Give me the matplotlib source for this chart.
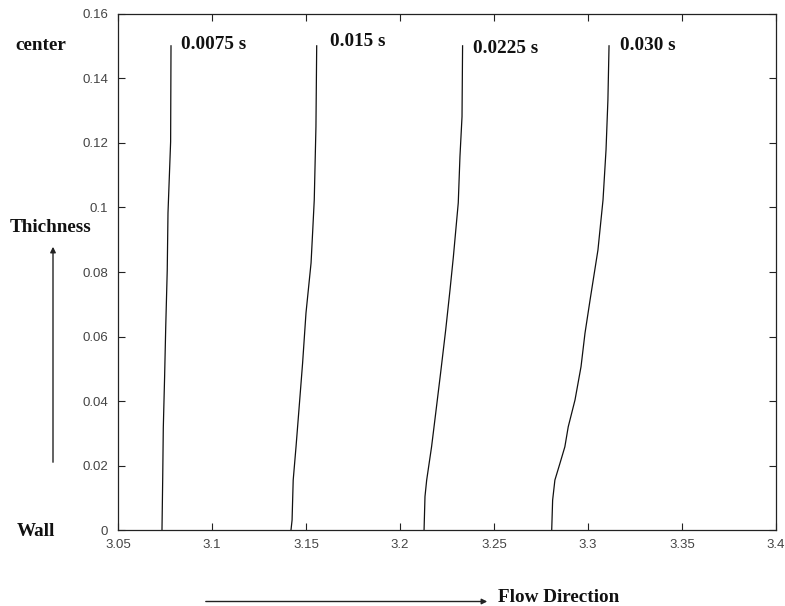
import matplotlib
matplotlib.use("Agg")
import matplotlib.pyplot as plt

# Front position along the flow direction at several depths (wall -> center)
times = ["0.0075 s", "0.015 s", "0.0225 s", "0.030 s"]

y_t1 = [0.0, 0.0167, 0.0317, 0.0476, 0.0631, 0.0806, 0.0983, 0.1203, 0.15]
x_t1 = [3.0734, 3.0738, 3.0741, 3.0748, 3.0754, 3.0762, 3.0766, 3.0780, 3.0782]

y_t2 = [0.0, 0.0032, 0.0156, 0.0259, 0.0414, 0.0518, 0.0673, 0.0828, 0.093, 0.1023, 0.125, 0.15]
x_t2 = [3.1420, 3.1426, 3.1432, 3.1447, 3.1468, 3.1482, 3.1500, 3.1527, 3.1536, 3.1544, 3.1553, 3.1557]

y_t3 = [0.0, 0.0105, 0.0156, 0.0259, 0.0363, 0.0487, 0.062, 0.0744, 0.0847, 0.1014, 0.1157, 0.1281, 0.15]
x_t3 = [3.2128, 3.2133, 3.2142, 3.2168, 3.2190, 3.2216, 3.2243, 3.2266, 3.2284, 3.2310, 3.2319, 3.2330, 3.2333]

y_t4 = [0.0, 0.0094, 0.0156, 0.0208, 0.0259, 0.0321, 0.0404, 0.0507, 0.061, 0.0713, 0.0868, 0.1023, 0.1178, 0.1332, 0.15]
x_t4 = [3.2807, 3.2812, 3.2824, 3.2851, 3.2877, 3.2895, 3.2931, 3.2963, 3.2984, 3.3011, 3.3053, 3.3080, 3.3096, 3.3106, 3.3112]

# Where each time label sits (left edge, vertical centre)
label_x = [3.0835, 3.1628, 3.2390, 3.3170]
label_y = [0.1503, 0.1513, 0.1492, 0.1500]

xticks = [3.05, 3.1, 3.15, 3.2, 3.25, 3.3, 3.35, 3.4]
xtick_labels = ["3.05", "3.1", "3.15", "3.2", "3.25", "3.3", "3.35", "3.4"]
yticks = [0, 0.02, 0.04, 0.06, 0.08, 0.1, 0.12, 0.14, 0.16]
ytick_labels = ["0", "0.02", "0.04", "0.06", "0.08", "0.1", "0.12", "0.14", "0.16"]

serif = ["Liberation Serif", "DejaVu Serif"]
sans = ["Liberation Sans", "DejaVu Sans"]
txt_size = 13.8

fig = plt.figure(figsize=(7.85, 6.06), dpi=100)
ax = fig.add_axes([0.1503, 0.1246, 0.8382, 0.8531])

curves = [(x_t1, y_t1), (x_t2, y_t2), (x_t3, y_t3), (x_t4, y_t4)]
for (xs, ys) in curves:
    ax.plot(xs, ys, color="#111111", lw=0.9)

for lab, lx, ly in zip(times, label_x, label_y):
    ax.text(lx, ly, lab, family=serif, fontsize=txt_size, fontweight="bold",
            ha="left", va="center", color="#111111")

ax.set_xlim(3.05, 3.4)
ax.set_ylim(0, 0.16)
ax.set_xticks(xticks)
ax.set_xticklabels(xtick_labels)
ax.set_yticks(yticks)
ax.set_yticklabels(ytick_labels)
ax.tick_params(direction="in", length=5, width=0.8, top=True, right=True,
               labelsize=9.5, labelcolor="#444444", color="#222222")
ax.tick_params(axis="x", pad=6)
ax.tick_params(axis="y", pad=7)
for lbl in ax.get_xticklabels() + ax.get_yticklabels():
    lbl.set_family(sans)
for sp in ax.spines.values():
    sp.set_linewidth(0.9)
    sp.set_color("#222222")

# Annotations outside the axes
fig.text(15 / 785, 1 - 45 / 606, "center", family=serif, fontsize=txt_size,
         fontweight="bold", ha="left", va="center", color="#111111")
fig.text(10 / 785, 1 - 228 / 606, "Thichness", family=serif, fontsize=txt_size,
         fontweight="bold", ha="left", va="center", color="#111111")
fig.text(17 / 785, 1 - 532 / 606, "Wall", family=serif, fontsize=txt_size,
         fontweight="bold", ha="left", va="center", color="#111111")
fig.text(498 / 785, 1 - 597 / 606, "Flow Direction", family=serif, fontsize=txt_size,
         fontweight="bold", ha="left", va="center", color="#111111")

fig.add_artist(matplotlib.patches.FancyArrowPatch(
    (53 / 785, 1 - 465 / 606), (53 / 785, 1 - 244 / 606),
    transform=fig.transFigure, arrowstyle="-|>", mutation_scale=8,
    lw=1.0, color="#222222"))
fig.add_artist(matplotlib.patches.FancyArrowPatch(
    (203 / 785, 1 - 601.5 / 606), (490 / 785, 1 - 601.5 / 606),
    transform=fig.transFigure, arrowstyle="-|>", mutation_scale=8,
    lw=1.0, color="#222222"))

fig.savefig("out.png", dpi=100, facecolor="white")
